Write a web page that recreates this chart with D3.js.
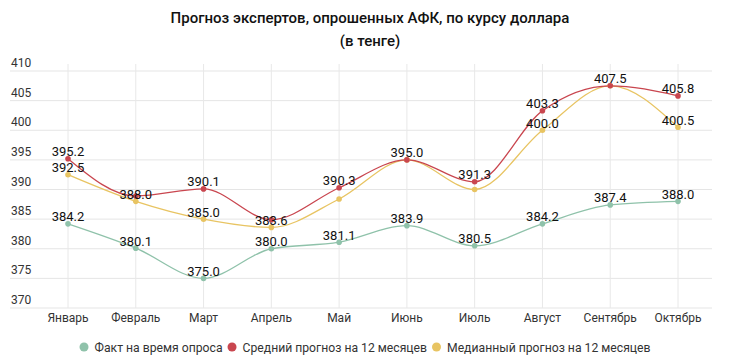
<!DOCTYPE html>
<html><head><meta charset="utf-8">
<script src="https://cdn.jsdelivr.net/npm/d3@7"></script>
<style>
body{margin:0;background:#fff;}
svg{display:block;font-family:Roboto,"Noto Sans",sans-serif;}
</style></head>
<body><svg id="c" width="730" height="364"></svg>
<script>
const titleLines = ["Прогноз экспертов, опрошенных АФК, по курсу доллара", "(в тенге)"];
const months = ["Январь","Февраль","Март","Апрель","Май","Июнь","Июль","Август","Сентябрь","Октябрь"];
const yTicks = [370,375,380,385,390,395,400,405,410];
const factValues   = [384.2,380.1,375.0,380.0,381.1,383.9,380.5,384.2,387.4,388.0];
const meanValues   = [395.2,388.9,390.1,384.9,390.3,395.0,391.3,403.3,407.5,405.8];
const medianValues = [392.5,388.0,385.0,383.6,388.4,395.0,390.0,400.0,407.5,400.5];
const factLabels   = [1,1,1,1,1,1,1,1,1,1];
const meanLabels   = [1,0,1,0,1,1,1,1,1,1];
const medianLabels = [1,1,1,1,0,0,0,1,0,1];
const seriesNames = ["Факт на время опроса","Средний прогноз на 12 месяцев","Медианный прогноз на 12 месяцев"];
const seriesColors = ["#8fc2aa","#c9464f","#e8c462"];

const svg = d3.select("#c");
const x = d3.scalePoint().domain(months).range([68,678]);
const y = d3.scaleLinear().domain([370,410]).range([308,71]);

// title
svg.append("g").selectAll("text").data(titleLines).join("text")
  .attr("x",370).attr("y",(d,i)=>23+i*23).attr("text-anchor","middle")
  .attr("font-size",15).attr("font-weight",500).attr("fill","#111").text(d=>d);

// horizontal grid + y labels
const yg = svg.append("g");
yg.selectAll("line").data(yTicks).join("line")
  .attr("x1",10).attr("x2",712).attr("y1",d=>y(d)).attr("y2",d=>y(d))
  .attr("stroke","#e5e5e5").attr("stroke-width",1);
yg.selectAll("text").data(yTicks).join("text")
  .attr("x",11).attr("y",d=>y(d)-4).attr("font-size",12).attr("fill","#333").text(d=>d);

// vertical grid
svg.append("g").selectAll("line").data(months).join("line")
  .attr("x1",d=>x(d)).attr("x2",d=>x(d)).attr("y1",64).attr("y2",308)
  .attr("stroke","#e8e8e8").attr("stroke-width",1);

// x axis labels
svg.append("g").selectAll("text").data(months).join("text")
  .attr("x",d=>x(d)).attr("y",322).attr("text-anchor","middle")
  .attr("font-size",12).attr("fill","#333").text(d=>d);

const series = [
  {vals:factValues, labels:factLabels, color:seriesColors[0]},
  {vals:meanValues, labels:meanLabels, color:seriesColors[1]},
  {vals:medianValues, labels:medianLabels, color:seriesColors[2]}
];
const line = d3.line().x((d,i)=>x(months[i])).y(d=>y(d)).curve(d3.curveMonotoneX);

const order = [0,2,1];
order.forEach(k=>{
  const s = series[k];
  svg.append("path").attr("d",line(s.vals)).attr("fill","none")
    .attr("stroke",s.color).attr("stroke-width",1.3);
});
order.forEach(k=>{
  const s = series[k];
  svg.append("g").selectAll("circle").data(s.vals).join("circle")
    .attr("cx",(d,i)=>x(months[i])).attr("cy",d=>y(d)).attr("r",2.8).attr("fill",s.color);
});
order.forEach(k=>{
  const s = series[k];
  svg.append("g").selectAll("text").data(s.vals.map((v,i)=>({v,i})).filter(d=>s.labels[d.i]))
    .join("text")
    .attr("x",d=>x(months[d.i])).attr("y",d=>y(d.v)-2.5).attr("text-anchor","middle")
    .attr("font-size",13).attr("fill","#111").text(d=>d.v.toFixed(1));
});

// legend
const lg = svg.append("g");
let cx = 0;
seriesNames.forEach((n,i)=>{
  const g = lg.append("g").attr("transform",`translate(${cx},0)`);
  g.append("circle").attr("cx",4.5).attr("cy",0).attr("r",4.5).attr("fill",seriesColors[i]);
  const t = g.append("text").attr("x",15).attr("y",4.5).attr("font-size",12.2).attr("fill","#333").text(n);
  cx += 15 + t.node().getComputedTextLength() + 5;
});
const lw = cx - 5;
lg.attr("transform",`translate(${365 - lw/2},347)`);
</script></body></html>
